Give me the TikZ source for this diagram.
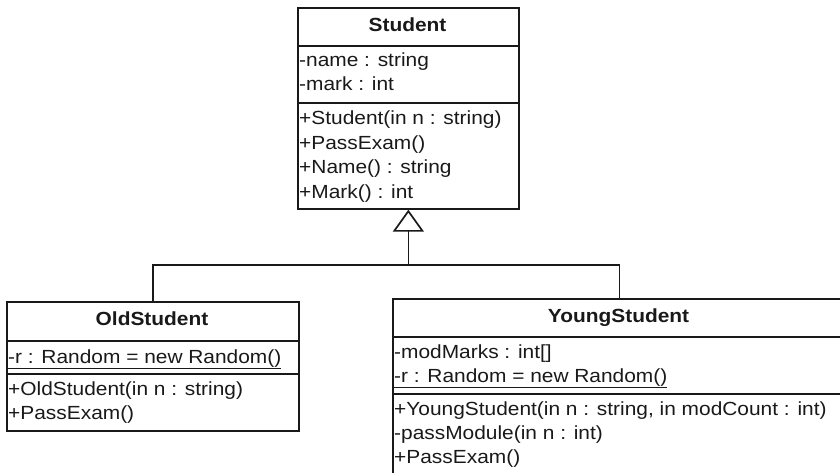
\documentclass[tikz,border=0pt]{standalone}
\usepackage{fontspec}
\setmainfont{Liberation Sans}[FakeStretch=1.1]
\usetikzlibrary{arrows.meta}
\begin{document}
\begin{tikzpicture}[x=1pt,y=-1pt,
  box/.style={draw=black!90, line width=1.7pt, rectangle, inner sep=0pt, anchor=north west},
  member/.style={anchor=base west, inner sep=0pt, text=black!90, font=\fontsize{19}{23}\selectfont},
  cname/.style={anchor=base, inner sep=0pt, text=black!90, font=\fontsize{19}{23}\selectfont\bfseries},
  inherit/.style={draw=black!90, line width=1.7pt},
]
\useasboundingbox (0,0) rectangle (840,473);
\clip (0,0) rectangle (840,473);

% Student
\node[box, minimum width=221pt, minimum height=38pt] (stuT) at (297,7) {};
\node[box, minimum width=221pt, minimum height=57pt] (stuA) at (297,45) {};
\node[box, minimum width=221pt, minimum height=106pt] (stuM) at (297,102) {};
\node[cname] (stuName) at (407.5,32) {Student};
\node[member] (stuA1) at (299,67) {-name : string};
\node[member] (stuA2) at (299,91) {-mark : int};
\node[member] (stuM1) at (299,125) {+Student(in n : string)};
\node[member] (stuM2) at (299,149.3) {+PassExam()};
\node[member] (stuM3) at (299,173.6) {+Name() : string};
\node[member] (stuM4) at (299,198) {+Mark() : int};

% OldStudent
\node[box, minimum width=292pt, minimum height=39pt] (osT) at (6,301) {};
\node[box, minimum width=292pt, minimum height=33pt] (osA) at (6,340) {};
\node[box, minimum width=292pt, minimum height=57pt] (osM) at (6,373) {};
\node[cname] (osName) at (152,325) {OldStudent};
\node[member] (osA1) at (8,363) {\underline{-r : Random = new Random()}};
\node[member] (osM1) at (8,395) {+OldStudent(in n : string)};
\node[member] (osM2) at (8,419) {+PassExam()};

% YoungStudent
\node[box, minimum width=453pt, minimum height=38pt] (ysT) at (392,298) {};
\node[box, minimum width=453pt, minimum height=57pt] (ysA) at (392,336) {};
\node[box, minimum width=453pt, minimum height=82pt] (ysM) at (392,393) {};
\node[cname] (ysName) at (618.5,322) {YoungStudent};
\node[member] (ysA1) at (394,358) {-modMarks : int[]};
\node[member] (ysA2) at (394,382) {\underline{-r : Random = new Random()}};
\node[member] (ysM1) at (394,415) {+YoungStudent(in n : string, in modCount : int)};
\node[member] (ysM2) at (394,439) {-passModule(in n : int)};
\node[member] (ysM3) at (394,463) {+PassExam()};

% Generalisation
\path (stuM.south) ++(0,55) coordinate (jn);
\draw[inherit] (osT.north) |- (jn) -| (ysT.north);
\draw[inherit, -{Triangle[open, length=22pt, width=31pt]}] (jn) -- (stuM.south);
\end{tikzpicture}
\end{document}
